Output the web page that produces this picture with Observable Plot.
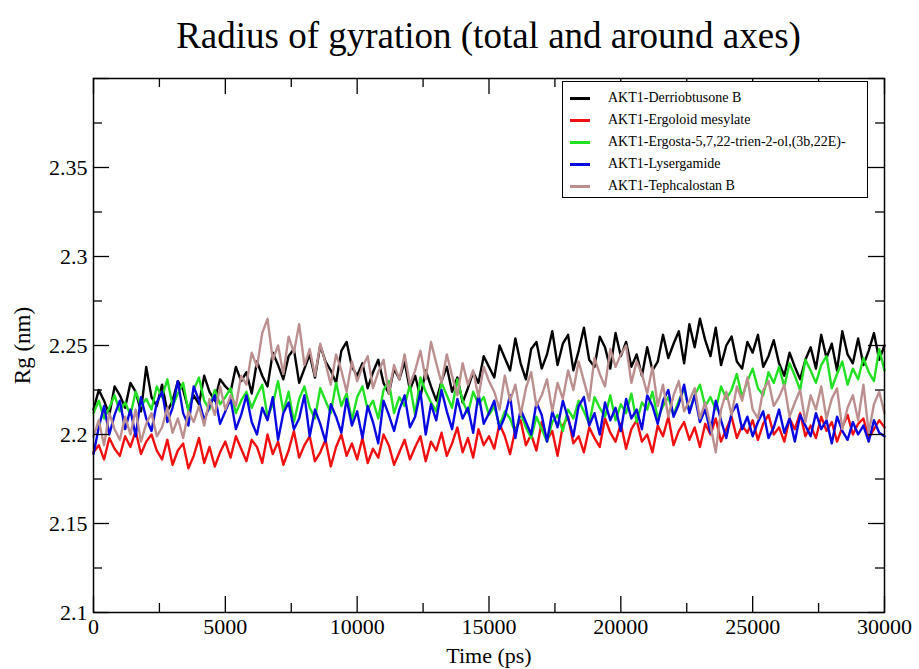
<!DOCTYPE html>
<html>
<head>
<meta charset="utf-8">
<script src="https://cdn.jsdelivr.net/npm/d3@7"></script>
<script src="https://cdn.jsdelivr.net/npm/@observablehq/plot@0.6"></script>
<style>
  body { margin: 0; background: #fff; }
  #wrap { position: relative; width: 919px; height: 669px; font-family: "Liberation Serif", "Times New Roman", Times, serif; }
  #title { box-sizing: border-box; height: 60px; padding: 17px 35px 0 93px; text-align: center; font-size: 37px; line-height: 1; color: #000; white-space: nowrap; }
  #legend { position: absolute; left: 562px; top: 81px; width: 306px; height: 117px; border: 1px solid #000; background: #fff; box-sizing: border-box; padding-top: 5px; }
  .row { display: flex; align-items: center; height: 22px; font-size: 14px; }
  .swatch { width: 20px; height: 0; border-top: 3px solid; margin-left: 7px; margin-right: 18px; }
</style>
</head>
<body>
<div id="wrap">
  <div id="title">Radius of gyration (total and around axes)</div>
  <div id="chart"></div>
  <div id="legend"></div>
</div>
<script>
// time step between samples (ps)
const timeStep = 200;

const seriesNames = [
  "AKT1-Derriobtusone B",
  "AKT1-Ergoloid mesylate",
  "AKT1-Ergosta-5,7,22-trien-2-ol,(3b,22E)-",
  "AKT1-Lysergamide",
  "AKT1-Tephcalostan B"
];
const seriesColors = ["#000000", "#f01010", "#22e022", "#0808e0", "#bc8f8f"];

const derriobtusone = [
  2.214, 2.225, 2.219, 2.211, 2.227, 2.222,
  2.215, 2.229, 2.224, 2.213,
  2.238,
  2.221, 2.216, 2.228, 2.213, 2.219, 2.230, 2.225, 2.214, 2.222, 2.217,
  2.233, 2.224, 2.219, 2.231, 2.227,
  2.224, 2.238, 2.230, 2.235, 2.223,
  2.241, 2.233, 2.227, 2.246, 2.239, 2.231, 2.244, 2.248, 2.229, 2.237,
  2.245, 2.232, 2.250, 2.241, 2.236, 2.229, 2.247, 2.252, 2.238, 2.233,
  2.240, 2.226, 2.235, 2.242, 2.229, 2.223, 2.237, 2.231, 2.241, 2.225,
  2.233, 2.221, 2.236, 2.227, 2.219, 2.230, 2.238, 2.224, 2.232, 2.218, 2.226, 2.235,
  2.229, 2.244, 2.238,
  2.232, 2.250, 2.243, 2.236, 2.254, 2.240, 2.231, 2.248, 2.252, 2.237,
  2.245, 2.258, 2.239, 2.251, 2.256, 2.236, 2.247, 2.260, 2.242, 2.238, 2.255, 2.249, 2.237, 2.257, 2.244,
  2.252, 2.238, 2.245, 2.233, 2.249, 2.236, 2.241, 2.256, 2.243, 2.251,
  2.258, 2.240, 2.262, 2.249, 2.265, 2.253, 2.244, 2.260, 2.239, 2.250,
  2.255, 2.241, 2.237, 2.252, 2.246, 2.256, 2.238, 2.244, 2.253, 2.240,
  2.233, 2.246, 2.238, 2.231, 2.242,
  2.249, 2.237, 2.256, 2.243, 2.251, 2.236, 2.258, 2.245, 2.240, 2.254, 2.239, 2.247, 2.257, 2.242, 2.250
];

const ergoloid = [
  2.190, 2.194, 2.186, 2.198, 2.192, 2.188,
  2.199, 2.193, 2.202, 2.189, 2.196, 2.200, 2.191,
  2.186, 2.197, 2.183, 2.191, 2.195, 2.181, 2.188, 2.198, 2.184, 2.193, 2.182, 2.190, 2.196,
  2.187, 2.199, 2.192, 2.185, 2.197,
  2.193, 2.184, 2.200, 2.189, 2.196, 2.183, 2.191, 2.202, 2.187, 2.194, 2.199, 2.185, 2.190, 2.197, 2.182, 2.193, 2.200, 2.188, 2.195, 2.186,
  2.198, 2.184, 2.192, 2.187, 2.200, 2.194, 2.183, 2.190, 2.197, 2.186, 2.193, 2.199, 2.185, 2.196, 2.191,
  2.201, 2.188, 2.195, 2.204, 2.190, 2.198, 2.187, 2.203, 2.194, 2.199,
  2.192, 2.206, 2.199, 2.189, 2.203, 2.208, 2.194, 2.200, 2.191, 2.207, 2.197, 2.202, 2.188, 2.205, 2.210, 2.195, 2.199, 2.190, 2.204, 2.198, 2.193, 2.209, 2.201, 2.196, 2.206,
  2.192, 2.203, 2.208, 2.196, 2.200, 2.190, 2.205, 2.199, 2.210, 2.194, 2.202, 2.207, 2.197, 2.204, 2.193,
  2.206, 2.200, 2.209, 2.196, 2.203, 2.210, 2.198, 2.205, 2.201, 2.208,
  2.197, 2.206, 2.211, 2.200, 2.204, 2.196, 2.209, 2.203, 2.212, 2.199, 2.205, 2.198, 2.210, 2.202, 2.207, 2.196, 2.204, 2.211, 2.200, 2.206, 2.209, 2.198, 2.203, 2.208, 2.204
];

const ergosta = [
  2.212, 2.219, 2.209, 2.215, 2.222, 2.213,
  2.218, 2.211, 2.224, 2.216, 2.220,
  2.214, 2.227, 2.221, 2.231, 2.216, 2.223, 2.229, 2.213, 2.225, 2.232,
  2.219, 2.214, 2.225, 2.217, 2.221,
  2.226, 2.212, 2.219, 2.224, 2.215,
  2.222, 2.228, 2.210, 2.217, 2.230, 2.213, 2.224, 2.207, 2.220, 2.227, 2.215, 2.209, 2.226, 2.219, 2.212, 2.229, 2.216, 2.223, 2.208, 2.221,
  2.227, 2.214, 2.219, 2.209, 2.225, 2.230, 2.212, 2.221, 2.216, 2.228, 2.211, 2.232, 2.224, 2.218, 2.213, 2.229, 2.222, 2.215, 2.231, 2.219,
  2.212, 2.224, 2.217, 2.221, 2.211,
  2.216, 2.205, 2.213, 2.209, 2.201, 2.212, 2.204, 2.198, 2.210, 2.203, 2.196, 2.207, 2.211, 2.202, 2.214,
  2.209, 2.219, 2.213, 2.206, 2.221, 2.215, 2.210, 2.222, 2.208, 2.217,
  2.212, 2.223, 2.207, 2.218, 2.214, 2.224, 2.209, 2.216, 2.221, 2.211,
  2.219, 2.226, 2.213, 2.222, 2.228, 2.216, 2.221, 2.214, 2.227, 2.220,
  2.225, 2.234, 2.221, 2.230, 2.237, 2.226, 2.222, 2.235, 2.229, 2.238,
  2.227, 2.240, 2.233, 2.225, 2.242, 2.236, 2.229, 2.239, 2.244, 2.226, 2.234, 2.241, 2.228, 2.237, 2.231, 2.243, 2.235, 2.230, 2.248, 2.236
];

const lysergamide = [
  2.189, 2.204, 2.216, 2.200, 2.211, 2.219,
  2.203, 2.214, 2.199, 2.221, 2.209, 2.202, 2.218,
  2.224, 2.207, 2.215, 2.230, 2.212, 2.205, 2.227, 2.219,
  2.208, 2.216, 2.222, 2.206, 2.213,
  2.220, 2.203, 2.211, 2.222, 2.207,
  2.200, 2.215, 2.208, 2.221, 2.197, 2.212, 2.218, 2.203, 2.209, 2.222, 2.199, 2.214, 2.206, 2.196, 2.217, 2.210, 2.201, 2.220, 2.205, 2.213,
  2.198, 2.216, 2.207, 2.195, 2.219, 2.211, 2.202, 2.214, 2.222, 2.204, 2.210, 2.224, 2.200, 2.217, 2.208, 2.225, 2.213, 2.203, 2.220, 2.209, 2.215, 2.201, 2.223, 2.206, 2.212,
  2.219, 2.203, 2.210, 2.222, 2.198, 2.214, 2.207, 2.200, 2.218, 2.211, 2.196, 2.213, 2.204, 2.219, 2.209, 2.199, 2.216, 2.221, 2.205, 2.212, 2.200, 2.218, 2.208, 2.215, 2.202,
  2.220, 2.209, 2.214, 2.203, 2.222, 2.216, 2.206, 2.219, 2.225, 2.210, 2.217, 2.228, 2.212, 2.222, 2.207,
  2.214, 2.201, 2.219, 2.208, 2.198, 2.212, 2.217, 2.203, 2.210, 2.199,
  2.207, 2.213, 2.198, 2.204, 2.214, 2.201, 2.209, 2.196, 2.211, 2.205, 2.199, 2.212, 2.203, 2.208, 2.195, 2.210, 2.202, 2.197, 2.207, 2.200, 2.205, 2.196, 2.208, 2.201, 2.199
];

const tephcalostan = [
  2.199, 2.208, 2.194, 2.212, 2.203, 2.197,
  2.210, 2.200, 2.214, 2.196, 2.206, 2.212, 2.199,
  2.204, 2.215, 2.201, 2.209, 2.198, 2.213, 2.207, 2.216,
  2.205, 2.220, 2.211, 2.227, 2.214,
  2.222, 2.216, 2.233, 2.228, 2.246,
  2.238, 2.257, 2.265, 2.242, 2.250, 2.234, 2.255, 2.246, 2.262, 2.239,
  2.248, 2.233, 2.251, 2.240, 2.228, 2.245, 2.236, 2.224, 2.241, 2.230,
  2.238, 2.244, 2.226, 2.235, 2.242, 2.223, 2.239, 2.231, 2.245, 2.228,
  2.236, 2.247, 2.231, 2.252, 2.240, 2.229, 2.245,
  2.233, 2.222, 2.240, 2.228, 2.236, 2.221, 2.238, 2.230,
  2.224, 2.214, 2.233, 2.219, 2.228, 2.211, 2.226, 2.235, 2.216, 2.222, 2.231, 2.213, 2.229, 2.220, 2.236,
  2.225, 2.241, 2.230, 2.219, 2.243, 2.234, 2.227, 2.248, 2.238, 2.245,
  2.250, 2.229, 2.241, 2.234, 2.223, 2.238,
  2.216, 2.228, 2.210, 2.222, 2.230, 2.213, 2.219, 2.226, 2.209,
  2.218, 2.205, 2.190, 2.214, 2.224,
  2.211, 2.227, 2.219, 2.232, 2.214, 2.209, 2.225, 2.230, 2.216, 2.221,
  2.228, 2.210, 2.218, 2.225, 2.207, 2.222, 2.214, 2.227, 2.209, 2.220,
  2.226, 2.203, 2.215, 2.222, 2.208, 2.228, 2.201, 2.217, 2.224, 2.212
];

const seriesValues = [derriobtusone, ergoloid, ergosta, lysergamide, tephcalostan];

const xDomain = [0, 30000];
const yDomain = [2.1, 2.4];
const xMajorTicks = [0, 5000, 10000, 15000, 20000, 25000, 30000];
const xMinorTicks = [2500, 7500, 12500, 17500, 22500, 27500];
const xTickLabels = ["0", "5000", "10000", "15000", "20000", "25000", "30000"];
const yMajorTicks = [2.1, 2.15, 2.2, 2.25, 2.3, 2.35, 2.4];
const yMinorTicks = [2.125, 2.175, 2.225, 2.275, 2.325, 2.375];
const yLabelTicks = [2.1, 2.15, 2.2, 2.25, 2.3, 2.35];
const yTickLabels = ["2.1", "2.15", "2.2", "2.25", "2.3", "2.35"];

const W = 919, H = 609, mL = 93, mR = 35, mT = 18, mB = 57;
const plotW = W - mL - mR, plotH = H - mT - mB;
const majorLen = 16, minorLen = 9;
const serif = '"Liberation Serif", "Times New Roman", Times, serif';

const lines = seriesValues.map((vals, k) =>
  Plot.line(vals, {x: (d, i) => i * timeStep, y: d => d, stroke: seriesColors[k], strokeWidth: 2.4})
);

const chart = Plot.plot({
  width: W, height: H,
  marginLeft: mL, marginRight: mR, marginTop: mT, marginBottom: mB,
  style: {fontFamily: serif, background: "#fff", color: "#000"},
  x: {domain: xDomain},
  y: {domain: yDomain},
  marks: [
    ...lines,
    Plot.ruleY(yMajorTicks, {insetRight: plotW - majorLen, stroke: "#000", strokeWidth: 1.3}),
    Plot.ruleY(yMajorTicks, {insetLeft: plotW - majorLen, stroke: "#000", strokeWidth: 1.3}),
    Plot.ruleY(yMinorTicks, {insetRight: plotW - minorLen, stroke: "#000", strokeWidth: 1.3}),
    Plot.ruleY(yMinorTicks, {insetLeft: plotW - minorLen, stroke: "#000", strokeWidth: 1.3}),
    Plot.ruleX(xMajorTicks, {insetTop: plotH - majorLen, stroke: "#000", strokeWidth: 1.3}),
    Plot.ruleX(xMajorTicks, {insetBottom: plotH - majorLen, stroke: "#000", strokeWidth: 1.3}),
    Plot.ruleX(xMinorTicks, {insetTop: plotH - minorLen, stroke: "#000", strokeWidth: 1.3}),
    Plot.ruleX(xMinorTicks, {insetBottom: plotH - minorLen, stroke: "#000", strokeWidth: 1.3}),
    Plot.frame({stroke: "#000", strokeWidth: 1.5}),
    Plot.axisX({ticks: xMajorTicks, tickSize: 0, tickPadding: 6, fontSize: 22, label: null,
      tickFormat: d => xTickLabels[xMajorTicks.indexOf(d)]}),
    Plot.axisY({ticks: yLabelTicks, tickSize: 0, tickPadding: 6, fontSize: 22, label: null,
      tickFormat: d => yTickLabels[yLabelTicks.indexOf(d)]}),
    Plot.text(["Time (ps)"], {frameAnchor: "bottom", textAnchor: "middle", lineAnchor: "middle", dy: 43, fontSize: 22, fill: "#000"}),
    Plot.text(["Rg (nm)"], {frameAnchor: "left", textAnchor: "middle", lineAnchor: "middle", dx: -71, rotate: -90, fontSize: 23, fill: "#000"})
  ]
});
document.getElementById("chart").appendChild(chart);

const legend = document.getElementById("legend");
seriesNames.forEach((name, k) => {
  const row = document.createElement("div");
  row.className = "row";
  const sw = document.createElement("span");
  sw.className = "swatch";
  sw.style.borderTopColor = seriesColors[k];
  const label = document.createElement("span");
  label.textContent = name;
  row.appendChild(sw);
  row.appendChild(label);
  legend.appendChild(row);
});
</script>
</body>
</html>
